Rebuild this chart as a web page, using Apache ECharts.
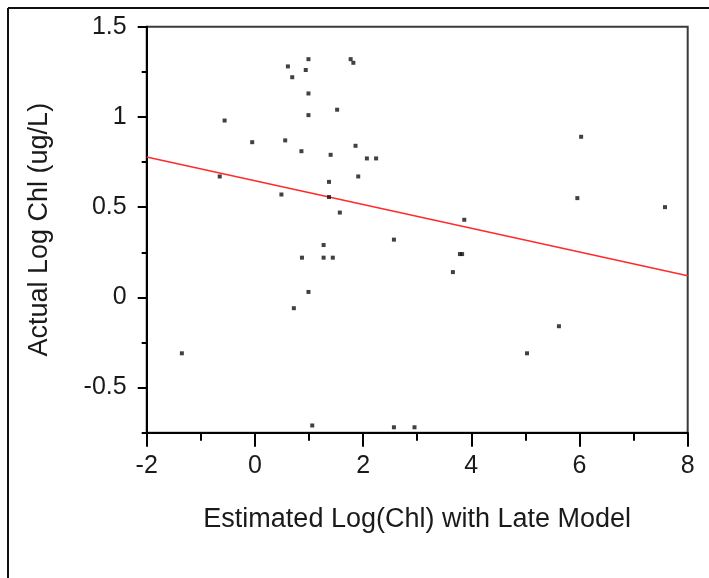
<!DOCTYPE html>
<html>
<head>
<meta charset="utf-8">
<script src="https://cdn.jsdelivr.net/npm/echarts@6/dist/echarts.min.js"></script>
<style>
  html, body { margin: 0; padding: 0; background: #fff; }
  #chart { width: 709px; height: 578px; }
</style>
</head>
<body>
<div id="chart"></div>
<script>
// Estimated vs. actual log chlorophyll, one point per sample
const estimatedLogChl = [
  0.99, 0.61, 0.94, 0.69, 0.99, 1.52, -0.56, 0.99, -0.05, 0.56,
  0.86, 1.40, 1.77, 1.82, 1.86, 2.07, 2.24, 6.03, -0.65, 0.49,
  1.37, 1.37, 1.57, 1.27, 0.87, 1.27, 1.44, 0.99, 0.72, 1.91,
  3.87, 2.57, 3.79, 3.83, 3.66, 5.96, 7.58, -1.35, 1.06, 2.57,
  2.95, 5.03, 5.62
];
const actualLogChl = [
  1.32, 1.28, 1.26, 1.22, 1.13, 1.04, 0.98, 1.01, 0.86, 0.87,
  0.81, 0.79, 1.32, 1.30, 0.84, 0.77, 0.77, 0.89, 0.67, 0.57,
  0.64, 0.556, 0.47, 0.29, 0.22, 0.22, 0.22, 0.03, -0.06, 0.67,
  0.43, 0.32, 0.24, 0.24, 0.14, 0.55, 0.50, -0.31, -0.71, -0.72,
  -0.72, -0.31, -0.16
];

// Fitted regression line, given by its end points
const fitX = [-2, 8];
const fitY = [0.778, 0.12];

// Axis ticks
const xMajorTicks = [-2, 0, 2, 4, 6, 8];
const yMajorTicks = [-0.5, 0, 0.5, 1, 1.5];
const yMinorTicks = [-0.75, -0.25, 0.25, 0.75, 1.25];

const FONT = '"Liberation Sans", Arial, sans-serif';
const INK = '#1a1a1a';

const points = estimatedLogChl.map((x, i) => [x, actualLogChl[i]]);
const fitLine = fitX.map((x, i) => [x, fitY[i]]);

const chart = echarts.init(document.getElementById('chart'), null, { renderer: 'canvas' });

const yRange = { min: -0.75, max: 1.5 };

chart.setOption({
  animation: false,
  backgroundColor: '#fff',
  grid: {
    left: 146.7, top: 26.7, right: 21.3, bottom: 145.3,
    show: true, borderColor: '#3a3a3a', borderWidth: 2, backgroundColor: 'transparent'
  },
  xAxis: {
    type: 'value', min: -2, max: 8, interval: 2,
    name: 'Estimated Log(Chl) with Late Model',
    nameLocation: 'middle', nameGap: 73,
    nameTextStyle: { fontFamily: FONT, fontSize: 27, color: INK },
    axisLine: { show: true, onZero: false, lineStyle: { color: '#000', width: 2 } },
    axisTick: { show: true, inside: false, length: 14, lineStyle: { color: '#000', width: 2 } },
    minorTick: { show: true, splitNumber: 2, length: 8, lineStyle: { color: '#000', width: 2 } },
    axisLabel: { fontFamily: FONT, fontSize: 25, color: INK, margin: 21,
      customValues: xMajorTicks },
    splitLine: { show: false }
  },
  yAxis: [
    {
      type: 'value', min: yRange.min, max: yRange.max,
      name: 'Actual Log Chl (ug/L)',
      nameLocation: 'middle', nameGap: 94, nameRotate: 90,
      nameTextStyle: { fontFamily: FONT, fontSize: 27, color: INK },
      axisLine: { show: true, onZero: false, lineStyle: { color: '#000', width: 2 } },
      axisTick: { show: true, length: 9, customValues: yMajorTicks,
        lineStyle: { color: '#000', width: 2 } },
      axisLabel: { fontFamily: FONT, fontSize: 25, color: INK, margin: 20,
        customValues: yMajorTicks },
      splitLine: { show: false }
    },
    {
      // minor ticks between the labelled values
      type: 'value', min: yRange.min, max: yRange.max, position: 'left',
      axisLine: { show: false, onZero: false },
      axisTick: { show: true, length: 5, customValues: yMinorTicks,
        lineStyle: { color: '#000', width: 2 } },
      axisLabel: { show: false },
      splitLine: { show: false }
    }
  ],
  graphic: [
    // page frame on the top and left
    { type: 'line', shape: { x1: 8, y1: 8, x2: 709, y2: 8 },
      style: { stroke: '#111', lineWidth: 2 }, silent: true },
    { type: 'line', shape: { x1: 8, y1: 8, x2: 8, y2: 578 },
      style: { stroke: '#111', lineWidth: 2 }, silent: true }
  ],
  series: [
    {
      type: 'line', data: fitLine, symbol: 'none', z: 2,
      lineStyle: { color: '#ff2a2a', width: 1.5 }
    },
    {
      type: 'scatter', data: points, symbol: 'rect', symbolSize: 4, z: 3,
      itemStyle: { color: '#111' }
    }
  ]
});
</script>
</body>
</html>
